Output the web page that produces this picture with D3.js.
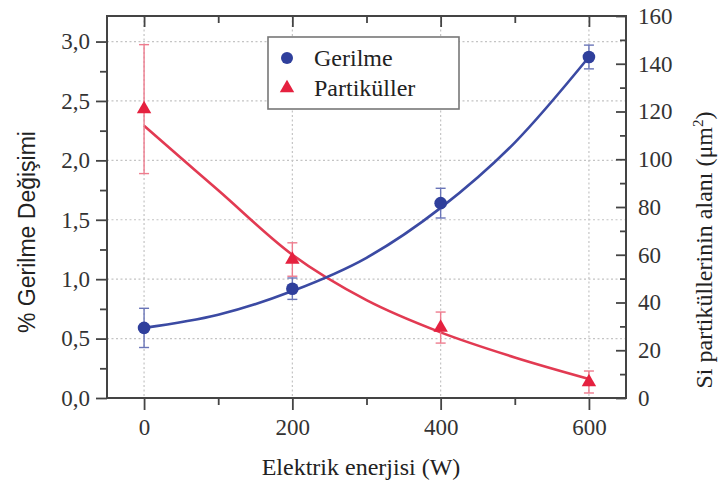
<!DOCTYPE html>
<html>
<head>
<meta charset="utf-8">
<script src="https://cdn.jsdelivr.net/npm/d3@7/dist/d3.min.js"></script>
<style>
  html, body { margin: 0; padding: 0; background: #fff; }
  svg { display: block; }
  svg text { font-family: "Liberation Serif"; }
  svg text.sans { font-family: "Liberation Sans"; }
</style>
</head>
<body>
<svg id="chart" width="718" height="483"></svg>
<script>
// Electric energy levels (W)
const power = [0, 200, 400, 600];

// % strain change with standard deviation (left axis)
const gerilme = [0.59, 0.92, 1.64, 2.87];
const gerilmeErr = [0.165, 0.09, 0.125, 0.10];

// Si particle area (µm²) with standard deviation (right axis)
const partikul = [121, 58, 29.5, 6.7];
const partikulErr = [27, 7, 6.5, 4.6];

// Fitted trend curves
const fitPower = [0, 100, 200, 300, 400, 500, 600];
const gerilmeFit = [0.59, 0.70, 0.90, 1.18, 1.60, 2.15, 2.87];
const partikulFit = [114, 87, 60, 41, 27.5, 17, 8];

// Tick values
const xTicks = [0, 200, 400, 600];
const xMinor = [100, 300, 500];
const yLeftTicks = [0, 0.5, 1.0, 1.5, 2.0, 2.5, 3.0];
const yLeftMinor = [0.25, 0.75, 1.25, 1.75, 2.25, 2.75];
const yRightTicks = [0, 20, 40, 60, 80, 100, 120, 140, 160];
const yRightMinor = [10, 30, 50, 70, 90, 110, 130, 150];

const blue = "#2f3f9c";
const blueErr = "#6a75b8";
const red = "#e5213f";
const redLine = "#e23a52";
const redErr = "#ee7c8e";
const axisColor = "#444";

const svg = d3.select("#chart");
const L = 107, R = 626, T = 16, B = 398;

const x = d3.scaleLinear().domain([-50, 650]).range([L, R]);
const yL = d3.scaleLinear().domain([0, 3.215]).range([B, T]);
const yR = d3.scaleLinear().domain([0, 160]).range([B, T]);

// Dotted grid
const grid = svg.append("g").attr("stroke", "#c4c4c4").attr("stroke-width", 1.2)
  .attr("stroke-dasharray", "2,2.5");
grid.selectAll("line.h").data(yLeftTicks.filter(d => d > 0)).join("line")
  .attr("x1", L).attr("x2", R).attr("y1", d => yL(d)).attr("y2", d => yL(d));
grid.selectAll("line.v").data(xTicks).join("line")
  .attr("y1", T).attr("y2", B).attr("x1", d => x(d)).attr("x2", d => x(d));

// Fitted curves
const lineL = d3.line().x((d, i) => x(fitPower[i])).y(d => yL(d)).curve(d3.curveMonotoneX);
const lineR = d3.line().x((d, i) => x(fitPower[i])).y(d => yR(d)).curve(d3.curveMonotoneX);

svg.append("path").datum(partikulFit).attr("d", lineR)
  .attr("fill", "none").attr("stroke", redLine).attr("stroke-width", 2.6);
svg.append("path").datum(gerilmeFit).attr("d", lineL)
  .attr("fill", "none").attr("stroke", "#3b4aa3").attr("stroke-width", 2.6);

// Error bars
function errorBars(vals, errs, scale, color, capW) {
  const g = svg.append("g").attr("stroke", color).attr("stroke-width", 1.4).attr("fill", "none");
  vals.forEach((v, i) => {
    const cx = x(power[i]);
    const y1 = scale(v - errs[i]), y2 = scale(v + errs[i]);
    g.append("line").attr("x1", cx).attr("x2", cx).attr("y1", y1).attr("y2", y2);
    g.append("line").attr("x1", cx - capW).attr("x2", cx + capW).attr("y1", y1).attr("y2", y1);
    g.append("line").attr("x1", cx - capW).attr("x2", cx + capW).attr("y1", y2).attr("y2", y2);
  });
}
errorBars(partikul, partikulErr, yR, redErr, 5);
errorBars(gerilme, gerilmeErr, yL, blueErr, 5);

// Markers
const tri = d3.symbol().type(d3.symbolTriangle).size(90);
svg.append("g").selectAll("path").data(partikul).join("path")
  .attr("d", tri)
  .attr("transform", (d, i) => `translate(${x(power[i])},${yR(d)})`)
  .attr("fill", red);
svg.append("g").selectAll("circle").data(gerilme).join("circle")
  .attr("cx", (d, i) => x(power[i])).attr("cy", d => yL(d)).attr("r", 6.3)
  .attr("fill", blue);

// Legend
const leg = svg.append("g");
leg.append("rect").attr("x", 268).attr("y", 37).attr("width", 191).attr("height", 72)
  .attr("fill", "#fff").attr("stroke", "#777").attr("stroke-width", 1.6);
leg.append("circle").attr("cx", 287).attr("cy", 58).attr("r", 6).attr("fill", blue);
leg.append("path").attr("d", tri).attr("transform", "translate(287,88)").attr("fill", red);
leg.append("text").attr("x", 314).attr("y", 66)
  .attr("font-size", 24).attr("fill", "#222").text("Gerilme");
leg.append("text").attr("x", 314).attr("y", 96)
  .attr("font-size", 24).attr("fill", "#222").text("Partiküller");

// Axes
function styleAxis(g) {
  g.attr("font-family", null).attr("font-size", 23);
  g.select(".domain").remove();
  g.selectAll("line").attr("stroke", axisColor).attr("stroke-width", 1.8);
  g.selectAll("text").attr("fill", "#333");
}
const fmt = d => d.toFixed(1).replace(".", ",");

svg.append("g").attr("transform", `translate(${L},0)`)
  .call(d3.axisLeft(yL).tickValues(yLeftTicks).tickFormat(fmt).tickSize(11).tickPadding(6))
  .call(styleAxis);
svg.append("g").attr("transform", `translate(${L},0)`)
  .call(d3.axisLeft(yL).tickValues(yLeftMinor).tickFormat("").tickSize(7))
  .call(styleAxis);

svg.append("g").attr("transform", `translate(0,${B})`)
  .call(d3.axisBottom(x).tickValues(xTicks).tickSize(12).tickPadding(9))
  .call(styleAxis);
svg.append("g").attr("transform", `translate(0,${B})`)
  .call(d3.axisBottom(x).tickValues(xMinor).tickFormat("").tickSize(7))
  .call(styleAxis);

svg.append("g").attr("transform", `translate(0,${T})`)
  .call(d3.axisTop(x).tickValues(xTicks).tickFormat("").tickSize(-11))
  .call(styleAxis);
svg.append("g").attr("transform", `translate(0,${T})`)
  .call(d3.axisTop(x).tickValues(xMinor).tickFormat("").tickSize(-7))
  .call(styleAxis);

svg.append("g").attr("transform", `translate(${R},0)`)
  .call(d3.axisRight(yR).tickValues(yRightTicks).tickSize(-10).tickPadding(12))
  .call(styleAxis);
svg.append("g").attr("transform", `translate(${R},0)`)
  .call(d3.axisRight(yR).tickValues(yRightMinor).tickFormat("").tickSize(-6))
  .call(styleAxis);

// Frame
svg.append("rect").attr("x", L).attr("y", T).attr("width", R - L).attr("height", B - T)
  .attr("fill", "none").attr("stroke", axisColor).attr("stroke-width", 2);

// Axis titles
svg.append("text").attr("x", 361).attr("y", 475)
  .attr("text-anchor", "middle").attr("font-size", 24).attr("fill", "#222")
  .text("Elektrik enerjisi (W)");
svg.append("text").attr("class", "sans")
  .attr("transform", "translate(35,232) rotate(-90)")
  .attr("text-anchor", "middle").attr("font-size", 23).attr("fill", "#222")
  .text("% Gerilme Değişimi");
const rt = svg.append("text")
  .attr("transform", "translate(712,250) rotate(-90)")
  .attr("text-anchor", "middle").attr("font-size", 24).attr("fill", "#222");
rt.append("tspan").text("Si partiküllerinin alanı (μm");
rt.append("tspan").attr("dy", -9).attr("font-size", 15).text("2");
rt.append("tspan").attr("dy", 9).text(")");
</script>
</body>
</html>
